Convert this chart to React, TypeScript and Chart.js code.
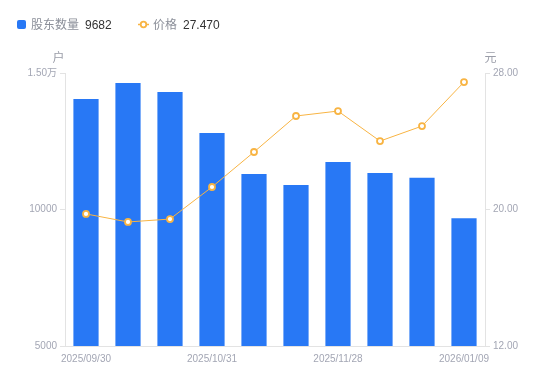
import React, { useEffect, useRef } from "react";
import { Chart, registerables } from "chart.js";

Chart.register(...registerables);

const dates = [
  "2025/09/30", "2025/10/10", "2025/10/20", "2025/10/31", "2025/11/10",
  "2025/11/20", "2025/11/28", "2025/12/12", "2025/12/26", "2026/01/09",
];
const shownDateIdx = [0, 3, 6, 9];
const holders = [14050, 14630, 14300, 12800, 11300, 10900, 11740, 11340, 11160, 9682];
const prices = [19.74, 19.27, 19.44, 21.32, 23.37, 25.48, 25.77, 24.01, 24.89, 27.47];
const holderTicks = [5000, 10000, 15000];
const priceTicks = [12, 20, 28];
const seriesNames = ["股东数量", "价格"];
const axisUnits = ["户", "元"];

const BLUE = "#2878f5";
const ORANGE = "#f8b443";
const TICK_COLOR = "#a3a6b4";
const AXIS_COLOR = "#e3e3e3";
const FONT = '"Liberation Sans", "Noto Sans CJK SC", sans-serif';

function fmtHolder(v: number) {
  if (v >= 15000) return (v / 10000).toFixed(2) + "万";
  return String(v);
}

const overlay = {
  id: "overlay",
  afterDraw(chart: any) {
    const ctx = chart.ctx as CanvasRenderingContext2D;
    ctx.save();
    ctx.font = "12px " + FONT;
    ctx.textBaseline = "middle";
    ctx.textAlign = "left";
    const ly = 25.5;
    // legend item 1
    ctx.fillStyle = BLUE;
    ctx.beginPath();
    (ctx as any).roundRect(17, 20, 9, 9, 2);
    ctx.fill();
    let x = 31;
    ctx.fillStyle = "#8b8f99";
    ctx.fillText(seriesNames[0], x, ly);
    x += ctx.measureText(seriesNames[0]).width + 6;
    ctx.fillStyle = "#333333";
    const v1 = String(holders[holders.length - 1]);
    ctx.fillText(v1, x, ly);
    // legend item 2
    x = 138;
    const iy = 24.5;
    ctx.strokeStyle = ORANGE;
    ctx.lineWidth = 1.5;
    ctx.beginPath();
    ctx.moveTo(x, iy);
    ctx.lineTo(x + 11, iy);
    ctx.stroke();
    ctx.beginPath();
    ctx.arc(x + 5.5, iy, 2.8, 0, Math.PI * 2);
    ctx.fillStyle = "#ffffff";
    ctx.fill();
    ctx.lineWidth = 1.8;
    ctx.stroke();
    x = 153;
    ctx.fillStyle = "#8b8f99";
    ctx.fillText(seriesNames[1], x, ly);
    x += ctx.measureText(seriesNames[1]).width + 6;
    ctx.fillStyle = "#333333";
    ctx.fillText(prices[prices.length - 1].toFixed(3), x, ly);
    // axis units
    ctx.fillStyle = "#9a9da8";
    ctx.textAlign = "center";
    ctx.fillText(axisUnits[0], 58.5, 58.5);
    ctx.fillText(axisUnits[1], 490.5, 58.5);
    ctx.restore();
  },
};

export default function App() {
  const ref = useRef<HTMLCanvasElement | null>(null);
  useEffect(() => {
    if (!ref.current) return;
    const chart = new Chart(ref.current, {
      type: "bar",
      data: {
        labels: dates,
        datasets: [
          {
            type: "line",
            label: seriesNames[1],
            data: prices,
            yAxisID: "y1",
            borderColor: ORANGE,
            borderWidth: 1,
            pointRadius: 3,
            pointBorderWidth: 1.8,
            pointBackgroundColor: "#ffffff",
            pointBorderColor: ORANGE,
            tension: 0,
            order: 0,
          } as any,
          {
            type: "bar",
            label: seriesNames[0],
            data: holders,
            yAxisID: "y",
            backgroundColor: BLUE,
            barPercentage: 0.6,
            categoryPercentage: 1,
            order: 1,
          },
        ],
      },
      options: {
        responsive: false,
        animation: false,
        layout: { padding: { top: 73, left: 0, right: 0, bottom: 0 } },
        plugins: { legend: { display: false }, tooltip: { enabled: false } },
        scales: {
          x: {
            offset: true,
            grid: { display: false, drawTicks: false },
            border: { display: true, color: AXIS_COLOR, width: 1 },
            ticks: {
              autoSkip: false,
              maxRotation: 0,
              padding: 7,
              color: TICK_COLOR,
              font: { size: 10, family: FONT },
              callback: (_v: any, i: number) => (shownDateIdx.includes(i) ? dates[i] : ""),
            },
            afterFit: (s: any) => {
              s.height = 35;
            },
          },
          y: {
            position: "left",
            min: holderTicks[0],
            max: holderTicks[holderTicks.length - 1],
            afterBuildTicks: (s: any) => {
              s.ticks = holderTicks.map((v) => ({ value: v }));
            },
            grid: { drawOnChartArea: false, drawTicks: true, tickLength: 5, color: AXIS_COLOR },
            border: { display: true, color: AXIS_COLOR, width: 1 },
            ticks: {
              padding: 3,
              color: TICK_COLOR,
              font: { size: 10, family: FONT },
              callback: (v: any) => fmtHolder(Number(v)),
            },
            afterFit: (s: any) => {
              s.width = 65;
            },
          },
          y1: {
            position: "right",
            min: priceTicks[0],
            max: priceTicks[priceTicks.length - 1],
            afterBuildTicks: (s: any) => {
              s.ticks = priceTicks.map((v) => ({ value: v }));
            },
            grid: { drawOnChartArea: false, drawTicks: true, tickLength: 5, color: AXIS_COLOR },
            border: { display: true, color: AXIS_COLOR, width: 1 },
            ticks: {
              padding: 3,
              color: TICK_COLOR,
              font: { size: 10, family: FONT },
              callback: (v: any) => Number(v).toFixed(2),
            },
            afterFit: (s: any) => {
              s.width = 65;
            },
          },
        },
      },
      plugins: [overlay],
    });
    return () => chart.destroy();
  }, []);
  return (
    <div style={{ position: "absolute", left: 0, top: 0, width: 550, height: 381, background: "#fff" }}>
      <canvas ref={ref} width={550} height={381} style={{ width: 550, height: 381 }} />
    </div>
  );
}
